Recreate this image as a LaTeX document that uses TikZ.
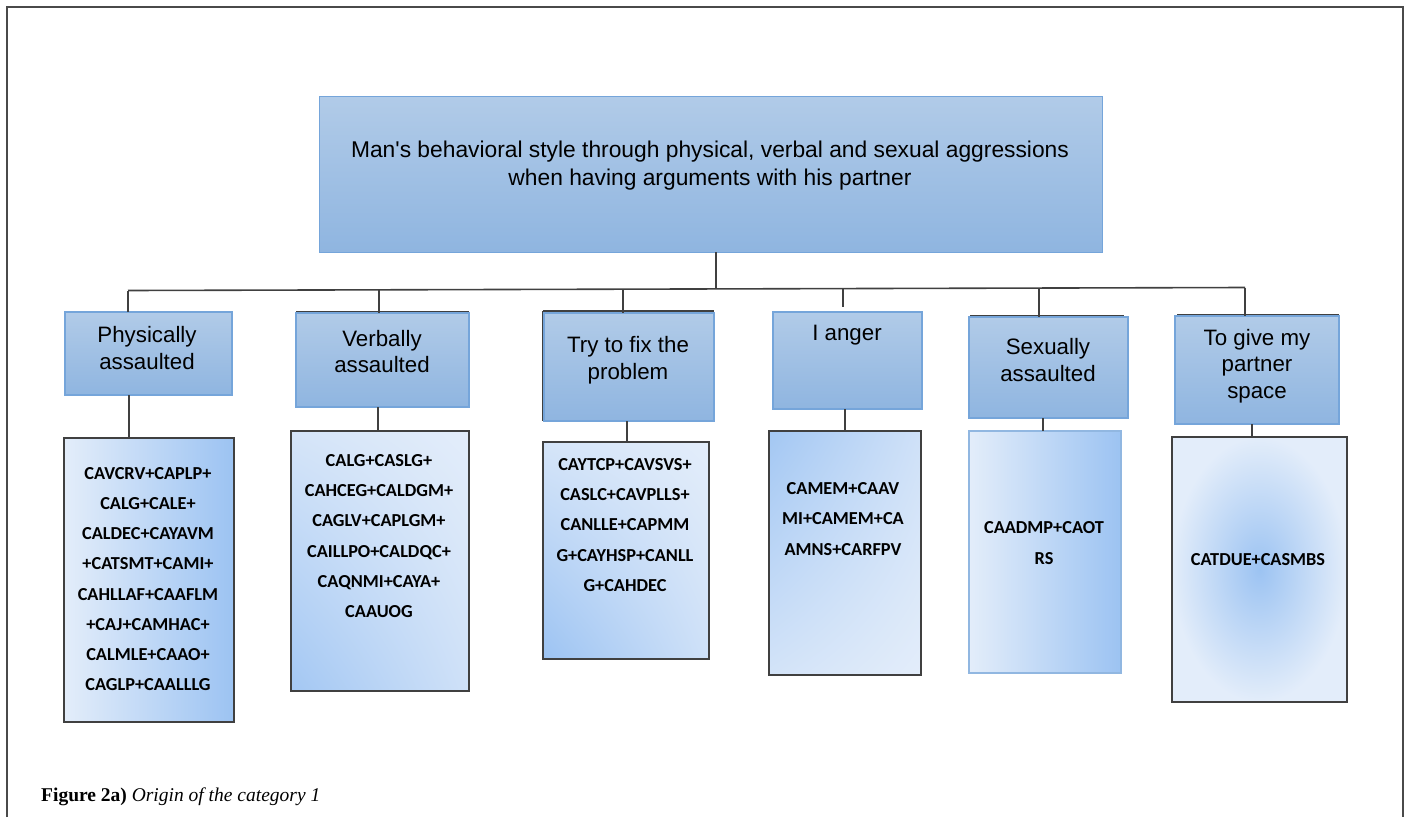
\documentclass[tikz,border=0pt]{standalone}
\usepackage{fontspec}
\setmainfont{Liberation Serif}
\newfontfamily\arialf{Liberation Sans}
\newfontfamily\calib{Carlito}
\usetikzlibrary{shadings}
\definecolor{frameg}{HTML}{4A4A4A}
\definecolor{topL}{HTML}{B1CBE8}
\definecolor{topD}{HTML}{8FB5E0}
\definecolor{bblue}{HTML}{75A5DA}
\definecolor{leafL}{HTML}{E3EDFA}
\definecolor{leafM}{HTML}{CFE1F8}
\definecolor{leafD}{HTML}{9CC3F2}
\definecolor{edgeg}{HTML}{404040}
\tikzset{
  topbox/.style={draw=bblue, line width=1pt, top color=topL, bottom color=topD, inner sep=0pt, outer sep=0pt, anchor=north west},
  catbox/.style={draw=bblue, line width=1.3pt, top color=topL, bottom color=topD, inner sep=0pt, outer sep=0pt, anchor=north west},
  leafbox/.style={draw=edgeg, line width=1.8pt, inner sep=0pt, outer sep=0pt, anchor=north west},
  conn/.style={draw=edgeg, line width=1.6pt},
  darkedge/.style={draw=edgeg, line width=1.8pt},
  toptext/.style={font=\arialf\fontsize{22.8}{28}\selectfont, align=center, inner sep=0pt},
  cattext/.style={font=\arialf\fontsize{22.3}{26.5}\selectfont, align=center, inner sep=0pt},
  leaftext/.style={font=\calib\bfseries\fontsize{18.3}{30.2}\selectfont, align=center, inner sep=0pt},
}
\begin{document}
\begin{tikzpicture}[x=1pt,y=-1pt]
\useasboundingbox[fill=white] (0,0) rectangle (1411,817);
% outer frame
\draw[frameg, line width=2pt] (7,817) -- (7,7) -- (1403,7) -- (1403,817);

% top box
\node[topbox, minimum width=783pt, minimum height=156pt] (top) at (319,96) {};
\node[toptext] (toptxt) at (710,166) {Man's behavioral style through physical, verbal and sexual aggressions\\when having arguments with his partner};

% category boxes (dark back edges first)
\draw[darkedge] (296,312) -- (469,312);
\draw[darkedge] (543,311) -- (714,311) (543,311) -- (543,421);
\draw[darkedge] (970,315.5) -- (1124,315.5);
\draw[darkedge] (1177,315) -- (1339,315);
\draw[darkedge] (232,312) -- (232,395);

\node[catbox, minimum width=167pt, minimum height=83pt] (c1) at (65,312) {};
\node[catbox, minimum width=173pt, minimum height=94pt] (c2) at (296,313) {};
\node[catbox, minimum width=170pt, minimum height=108pt] (c3) at (544,313) {};
\node[catbox, minimum width=149pt, minimum height=97pt] (c4) at (773,312) {};
\node[catbox, minimum width=159pt, minimum height=101pt] (c5) at (969,317) {};
\node[catbox, minimum width=164pt, minimum height=108pt] (c6) at (1175,316) {};

\node[cattext] (t1) at (147,348) {Physically\\assaulted};
\node[cattext] (t2) at (382,351.5) {Verbally\\assaulted};
\node[cattext] (t3) at (628,360) {Try to fix the\\problem};
\node[cattext] (t4) at (847,335) {I anger};
\node[cattext] (t5) at (1048,360) {Sexually\\assaulted};
\node[cattext] (t6) at (1257,366) {To give my\\partner\\space};

% leaf boxes
\node[leafbox, left color=leafL, right color=leafD, minimum width=170pt, minimum height=284pt] (l1) at (64,438) {};
\node[leafbox, shading=bilinear interpolation, upper left=leafM!70!leafL, upper right=leafL, lower left=leafD!90!leafL, lower right=leafM, minimum width=178pt, minimum height=260pt] (l2) at (291,431) {};
\node[leafbox, shading=bilinear interpolation, upper left=leafM!70!leafL, upper right=leafL, lower left=leafD, lower right=leafM, minimum width=166pt, minimum height=217pt] (l3) at (543,442) {};
\node[leafbox, shading=bilinear interpolation, upper left=leafD!90!leafL, upper right=leafM, lower left=leafM!80!leafL, lower right=leafL, minimum width=152pt, minimum height=244pt] (l4) at (769,431) {};
\node[leafbox, draw=bblue!80!white, line width=1.3pt, left color=leafL, right color=leafD, minimum width=152pt, minimum height=242pt] (l5) at (969,431) {};
\node[leafbox, inner color=leafD, outer color=leafL, minimum width=175pt, minimum height=265pt] (l6) at (1172,437) {};

\node[leaftext] (lt1) at (148,579) {CAVCRV+CAPLP+\\CALG+CALE+\\CALDEC+CAYAVM\\+CATSMT+CAMI+\\CAHLLAF+CAAFLM\\+CAJ+CAMHAC+\\CALMLE+CAAO+\\CAGLP+CAALLLG};
\node[leaftext] (lt2) at (379,536) {CALG+CASLG+\\CAHCEG+CALDGM+\\CAGLV+CAPLGM+\\CAILLPO+CALDQC+\\CAQNMI+CAYA+\\CAAUOG};
\node[leaftext] (lt3) at (625,525) {CAYTCP+CAVSVS+\\CASLC+CAVPLLS+\\CANLLE+CAPMM\\G+CAYHSP+CANLL\\G+CAHDEC};
\node[leaftext] (lt4) at (843,519) {CAMEM+CAAV\\MI+CAMEM+CA\\AMNS+CARFPV};
\node[leaftext] (lt5) at (1044,543) {CAADMP+CAOT\\RS};
\node[leaftext] (lt6) at (1258,560) {CATDUE+CASMBS};

% connectors
\coordinate (busL) at (128,290.5);
\coordinate (busR) at (1245,287.5);
\coordinate (bus0) at (716,289);
\draw[conn] (busL) -- (busR);
\draw[conn] (top.south -| bus0) -- (bus0);
\coordinate (j1) at (128,290.5);
\coordinate (j2) at (379,290);
\coordinate (j3) at (623,289.5);
\coordinate (j4) at (843,289);
\coordinate (j5) at (1039,288);
\coordinate (j6) at (1245,287.5);
\coordinate (g4) at (843,307);
\draw[conn] (j1) -- (c1.north -| j1);
\draw[conn] (j2) -- (c2.north -| j2);
\draw[conn] (j3) -- (c3.north -| j3);
\draw[conn] (j4) -- (g4);
\draw[conn] (j5) -- (c5.north -| j5);
\draw[conn] (j6) -- (c6.north -| j6);

\coordinate (k1) at (129,0);
\coordinate (k2) at (378,0);
\coordinate (k3) at (627,0);
\coordinate (k4) at (845,0);
\coordinate (k5) at (1043,0);
\coordinate (k6) at (1252,0);
\draw[conn] (c1.south -| k1) -- (l1.north -| k1);
\draw[conn] (c2.south -| k2) -- (l2.north -| k2);
\draw[conn] (c3.south -| k3) -- (l3.north -| k3);
\draw[conn] (c4.south -| k4) -- (l4.north -| k4);
\draw[conn] (c5.south -| k5) -- (l5.north -| k5);
\draw[conn] (c6.south -| k6) -- (l6.north -| k6);

% caption
\node[anchor=west, inner sep=0pt, font=\fontsize{19.5}{22}\selectfont] (cap) at (41,797) {\textbf{Figure 2a)} \textit{Origin of the category 1}};
\end{tikzpicture}
\end{document}
